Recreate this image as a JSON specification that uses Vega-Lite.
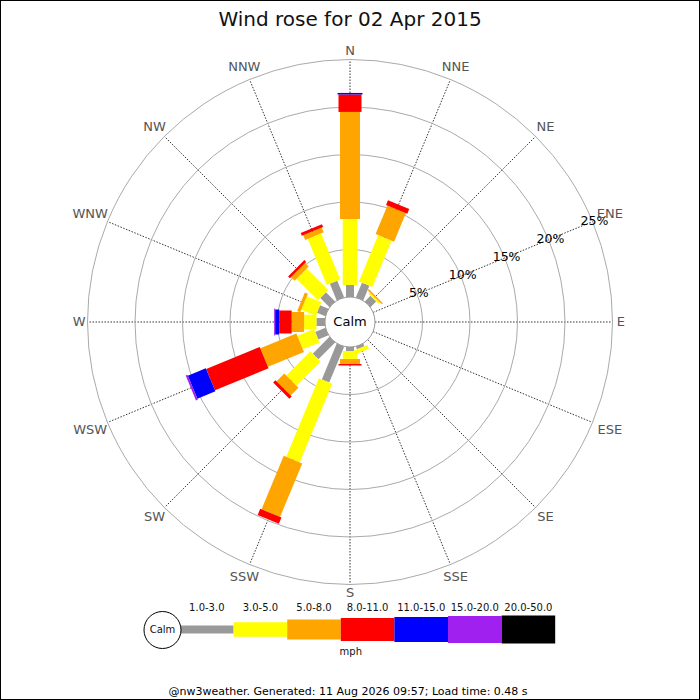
{
  "$schema": "https://vega.github.io/schema/vega-lite/v6.json",
  "width": 700,
  "height": 700,
  "autosize": "none",
  "padding": 0,
  "background": "white",
  "view": {"stroke": "black", "strokeWidth": 2},
  "config": {"font": "DejaVu Sans"},
  "title": {
    "text": "Wind rose for 02 Apr 2015",
    "font": "DejaVu Sans",
    "fontSize": 20,
    "fontWeight": "normal",
    "color": "#111111",
    "anchor": "middle",
    "offset": 0,
    "baseline": "alphabetic",
    "dy": 46
  },
  "datasets": {
    "bars": [
      {"dir": "N", "deg": 0, "k": 1, "cls": "1.0-3.0", "pct": 1.26},
      {"dir": "N", "deg": 0, "k": 2, "cls": "3.0-5.0", "pct": 6.95},
      {"dir": "N", "deg": 0, "k": 3, "cls": "5.0-8.0", "pct": 11.27},
      {"dir": "N", "deg": 0, "k": 4, "cls": "8.0-11.0", "pct": 1.84},
      {"dir": "N", "deg": 0, "k": 5, "cls": "11.0-15.0", "pct": 0.16},
      {"dir": "NNE", "deg": 22.5, "k": 1, "cls": "1.0-3.0", "pct": 1.68},
      {"dir": "NNE", "deg": 22.5, "k": 2, "cls": "3.0-5.0", "pct": 5.27},
      {"dir": "NNE", "deg": 22.5, "k": 3, "cls": "5.0-8.0", "pct": 3.26},
      {"dir": "NNE", "deg": 22.5, "k": 4, "cls": "8.0-11.0", "pct": 0.53},
      {"dir": "NE", "deg": 45, "k": 1, "cls": "1.0-3.0", "pct": 0.84},
      {"dir": "NE", "deg": 45, "k": 2, "cls": "3.0-5.0", "pct": 0.21},
      {"dir": "NE", "deg": 45, "k": 3, "cls": "5.0-8.0", "pct": 0.16},
      {"dir": "SSE", "deg": 157.5, "k": 1, "cls": "1.0-3.0", "pct": 0.3},
      {"dir": "SSE", "deg": 157.5, "k": 2, "cls": "3.0-5.0", "pct": 0.44},
      {"dir": "S", "deg": 180, "k": 1, "cls": "1.0-3.0", "pct": 0.42},
      {"dir": "S", "deg": 180, "k": 2, "cls": "3.0-5.0", "pct": 0.84},
      {"dir": "S", "deg": 180, "k": 3, "cls": "5.0-8.0", "pct": 0.53},
      {"dir": "S", "deg": 180, "k": 4, "cls": "8.0-11.0", "pct": 0.16},
      {"dir": "SSW", "deg": 202.5, "k": 1, "cls": "1.0-3.0", "pct": 4.1},
      {"dir": "SSW", "deg": 202.5, "k": 2, "cls": "3.0-5.0", "pct": 8.95},
      {"dir": "SSW", "deg": 202.5, "k": 3, "cls": "5.0-8.0", "pct": 6.1},
      {"dir": "SSW", "deg": 202.5, "k": 4, "cls": "8.0-11.0", "pct": 0.7},
      {"dir": "SW", "deg": 225, "k": 1, "cls": "1.0-3.0", "pct": 2.5},
      {"dir": "SW", "deg": 225, "k": 2, "cls": "3.0-5.0", "pct": 3.6},
      {"dir": "SW", "deg": 225, "k": 3, "cls": "5.0-8.0", "pct": 1.15},
      {"dir": "SW", "deg": 225, "k": 4, "cls": "8.0-11.0", "pct": 0.35},
      {"dir": "WSW", "deg": 247.5, "k": 1, "cls": "1.0-3.0", "pct": 1.16},
      {"dir": "WSW", "deg": 247.5, "k": 2, "cls": "3.0-5.0", "pct": 1.89},
      {"dir": "WSW", "deg": 247.5, "k": 3, "cls": "5.0-8.0", "pct": 4.1},
      {"dir": "WSW", "deg": 247.5, "k": 4, "cls": "8.0-11.0", "pct": 6.1},
      {"dir": "WSW", "deg": 247.5, "k": 5, "cls": "11.0-15.0", "pct": 2.05},
      {"dir": "WSW", "deg": 247.5, "k": 6, "cls": "15.0-20.0", "pct": 0.2},
      {"dir": "W", "deg": 270, "k": 1, "cls": "1.0-3.0", "pct": 0.9},
      {"dir": "W", "deg": 270, "k": 2, "cls": "3.0-5.0", "pct": 1.3},
      {"dir": "W", "deg": 270, "k": 3, "cls": "5.0-8.0", "pct": 1.31},
      {"dir": "W", "deg": 270, "k": 4, "cls": "8.0-11.0", "pct": 1.31},
      {"dir": "W", "deg": 270, "k": 5, "cls": "11.0-15.0", "pct": 0.43},
      {"dir": "W", "deg": 270, "k": 6, "cls": "15.0-20.0", "pct": 0.1},
      {"dir": "WNW", "deg": 292.5, "k": 1, "cls": "1.0-3.0", "pct": 0.95},
      {"dir": "WNW", "deg": 292.5, "k": 2, "cls": "3.0-5.0", "pct": 1.65},
      {"dir": "WNW", "deg": 292.5, "k": 3, "cls": "5.0-8.0", "pct": 0.35},
      {"dir": "NW", "deg": 315, "k": 1, "cls": "1.0-3.0", "pct": 1.37},
      {"dir": "NW", "deg": 315, "k": 2, "cls": "3.0-5.0", "pct": 3.2},
      {"dir": "NW", "deg": 315, "k": 3, "cls": "5.0-8.0", "pct": 0.53},
      {"dir": "NW", "deg": 315, "k": 4, "cls": "8.0-11.0", "pct": 0.27},
      {"dir": "NNW", "deg": 337.5, "k": 1, "cls": "1.0-3.0", "pct": 1.9},
      {"dir": "NNW", "deg": 337.5, "k": 2, "cls": "3.0-5.0", "pct": 5.26},
      {"dir": "NNW", "deg": 337.5, "k": 3, "cls": "5.0-8.0", "pct": 0.53},
      {"dir": "NNW", "deg": 337.5, "k": 4, "cls": "8.0-11.0", "pct": 0.32}
    ],
    "dirs": [
      {"dir": "N", "deg": 0}, {"dir": "NNE", "deg": 22.5}, {"dir": "NE", "deg": 45}, {"dir": "ENE", "deg": 67.5},
      {"dir": "E", "deg": 90}, {"dir": "ESE", "deg": 112.5}, {"dir": "SE", "deg": 135}, {"dir": "SSE", "deg": 157.5},
      {"dir": "S", "deg": 180}, {"dir": "SSW", "deg": 202.5}, {"dir": "SW", "deg": 225}, {"dir": "WSW", "deg": 247.5},
      {"dir": "W", "deg": 270}, {"dir": "WNW", "deg": 292.5}, {"dir": "NW", "deg": 315}, {"dir": "NNW", "deg": 337.5}
    ],
    "rings": [
      {"p": 5, "lab": "5%"}, {"p": 10, "lab": "10%"}, {"p": 15, "lab": "15%"}, {"p": 20, "lab": "20%"}, {"p": 25, "lab": "25%"}
    ],
    "legend": [
      {"k": 1, "cls": "1.0-3.0"}, {"k": 2, "cls": "3.0-5.0"}, {"k": 3, "cls": "5.0-8.0"}, {"k": 4, "cls": "8.0-11.0"},
      {"k": 5, "cls": "11.0-15.0"}, {"k": 6, "cls": "15.0-20.0"}, {"k": 7, "cls": "20.0-50.0"}
    ],
    "calm": [{"label": "Calm", "unit": "mph", "footer": "@nw3weather. Generated: 11 Aug 2026 09:57; Load time: 0.48 s"}]
  },
  "layer": [
    {
      "data": {"name": "dirs"},
      "transform": [
        {"calculate": "datum.deg * PI / 180", "as": "a"},
        {"calculate": "25 * sin(datum.a)", "as": "sx0"},
        {"calculate": "25 * cos(datum.a)", "as": "sy0"},
        {"calculate": "262.5 * sin(datum.a)", "as": "sx1"},
        {"calculate": "262.5 * cos(datum.a)", "as": "sy1"}
      ],
      "mark": {"type": "rule", "stroke": "#333333", "strokeWidth": 1, "strokeDash": [1.5, 1.5]},
      "encoding": {
        "x": {
          "field": "sx0", "type": "quantitative",
          "scale": {"domain": [-350, 350], "nice": false, "zero": false},
          "axis": null
        },
        "y": {
          "field": "sy0", "type": "quantitative",
          "scale": {"domain": [-378, 322], "nice": false, "zero": false},
          "axis": null
        },
        "x2": {"field": "sx1"},
        "y2": {"field": "sy1"}
      }
    },
    {
      "data": {"name": "rings"},
      "transform": [{"calculate": "4 * pow(25 + 9.5 * datum.p, 2)", "as": "area"}],
      "mark": {"type": "point", "shape": "circle", "filled": false, "stroke": "#aaaaaa", "strokeWidth": 1, "opacity": 1},
      "encoding": {
        "x": {"datum": 0, "type": "quantitative", "axis": null},
        "y": {"datum": 0, "type": "quantitative", "axis": null},
        "size": {"field": "area", "type": "quantitative", "scale": null, "legend": null}
      }
    },
    {
      "data": {"name": "bars"},
      "transform": [
        {"stack": "pct", "groupby": ["dir"], "sort": [{"field": "k", "order": "ascending"}], "as": ["p0", "p1"]},
        {"calculate": "datum.deg * PI / 180", "as": "a"},
        {"calculate": "(25 + 9.5 * datum.p0) * sin(datum.a)", "as": "bx0"},
        {"calculate": "(25 + 9.5 * datum.p0) * cos(datum.a)", "as": "by0"},
        {"calculate": "(25 + 9.5 * datum.p1) * sin(datum.a)", "as": "bx1"},
        {"calculate": "(25 + 9.5 * datum.p1) * cos(datum.a)", "as": "by1"}
      ],
      "mark": {"type": "rule", "strokeCap": "butt"},
      "encoding": {
        "x": {"field": "bx0", "type": "quantitative", "axis": null},
        "y": {"field": "by0", "type": "quantitative", "axis": null},
        "x2": {"field": "bx1"},
        "y2": {"field": "by1"},
        "color": {
          "field": "cls", "type": "nominal", "legend": null,
          "scale": {
            "domain": ["1.0-3.0", "3.0-5.0", "5.0-8.0", "8.0-11.0", "11.0-15.0", "15.0-20.0", "20.0-50.0"],
            "range": ["#999999", "#ffff00", "#ffa500", "#ff0000", "#0000ff", "#a020f0", "#000000"]
          }
        },
        "strokeWidth": {
          "field": "cls", "type": "nominal", "legend": null,
          "scale": {
            "type": "ordinal",
            "domain": ["1.0-3.0", "3.0-5.0", "5.0-8.0", "8.0-11.0", "11.0-15.0", "15.0-20.0", "20.0-50.0"],
            "range": [8, 14.5, 20, 23, 25, 27, 28]
          }
        }
      }
    },
    {
      "data": {"name": "calm"},
      "mark": {"type": "point", "shape": "circle", "filled": true, "fill": "white", "stroke": "#999999", "strokeWidth": 1, "opacity": 1, "size": 2500},
      "encoding": {
        "x": {"datum": 0, "type": "quantitative", "axis": null},
        "y": {"datum": 0, "type": "quantitative", "axis": null}
      }
    },
    {
      "data": {"name": "calm"},
      "mark": {"type": "text", "fontSize": 13, "color": "#000000", "align": "center", "baseline": "middle"},
      "encoding": {
        "x": {"datum": 0, "type": "quantitative", "axis": null},
        "y": {"datum": 0, "type": "quantitative", "axis": null},
        "text": {"field": "label"}
      }
    },
    {
      "data": {"name": "rings"},
      "transform": [
        {"calculate": "(27 + 9.5 * datum.p) * sin(67.5 * PI / 180)", "as": "lx"},
        {"calculate": "(27 + 9.5 * datum.p) * cos(67.5 * PI / 180)", "as": "ly"}
      ],
      "mark": {"type": "text", "fontSize": 12.5, "color": "#000000", "align": "center", "baseline": "middle"},
      "encoding": {
        "x": {"field": "lx", "type": "quantitative", "axis": null},
        "y": {"field": "ly", "type": "quantitative", "axis": null},
        "text": {"field": "lab"}
      }
    },
    {
      "data": {"name": "dirs"},
      "transform": [
        {"calculate": "datum.deg * PI / 180", "as": "a"},
        {"calculate": "266 + 4.8 * length(datum.dir) * abs(sin(datum.a)) + 5 * abs(cos(datum.a))", "as": "R"},
        {"calculate": "datum.R * sin(datum.a)", "as": "tx"},
        {"calculate": "datum.R * cos(datum.a)", "as": "ty"}
      ],
      "mark": {"type": "text", "fontSize": 13, "color": "#555555", "align": "center", "baseline": "middle"},
      "encoding": {
        "x": {"field": "tx", "type": "quantitative", "axis": null},
        "y": {"field": "ty", "type": "quantitative", "axis": null},
        "text": {"field": "dir"}
      }
    },
    {
      "data": {"name": "legend"},
      "transform": [
        {"calculate": "-170 + 53.6 * (datum.k - 1)", "as": "xa"},
        {"calculate": "datum.xa + 53.6", "as": "xb"},
        {"calculate": "-307.5", "as": "ly"}
      ],
      "mark": {"type": "rule", "strokeCap": "butt"},
      "encoding": {
        "x": {"field": "xa", "type": "quantitative", "axis": null},
        "y": {"field": "ly", "type": "quantitative", "axis": null},
        "x2": {"field": "xb"},
        "y2": {"field": "ly"},
        "color": {
          "field": "cls", "type": "nominal", "legend": null,
          "scale": {
            "domain": ["1.0-3.0", "3.0-5.0", "5.0-8.0", "8.0-11.0", "11.0-15.0", "15.0-20.0", "20.0-50.0"],
            "range": ["#999999", "#ffff00", "#ffa500", "#ff0000", "#0000ff", "#a020f0", "#000000"]
          }
        },
        "strokeWidth": {
          "field": "cls", "type": "nominal", "legend": null,
          "scale": {
            "type": "ordinal",
            "domain": ["1.0-3.0", "3.0-5.0", "5.0-8.0", "8.0-11.0", "11.0-15.0", "15.0-20.0", "20.0-50.0"],
            "range": [8, 14.5, 20, 23, 25, 27, 28]
          }
        }
      }
    },
    {
      "data": {"name": "legend"},
      "transform": [
        {"calculate": "-170 + 53.6 * (datum.k - 1) + 26.8", "as": "xm"},
        {"calculate": "-289", "as": "ly"}
      ],
      "mark": {"type": "text", "fontSize": 10, "color": "#111111", "align": "center", "baseline": "alphabetic"},
      "encoding": {
        "x": {"field": "xm", "type": "quantitative", "axis": null},
        "y": {"field": "ly", "type": "quantitative", "axis": null},
        "text": {"field": "cls"}
      }
    },
    {
      "data": {"name": "calm"},
      "mark": {"type": "point", "shape": "circle", "filled": true, "fill": "white", "stroke": "#000000", "strokeWidth": 1, "opacity": 1, "size": 1369},
      "encoding": {
        "x": {"datum": -187.5, "type": "quantitative", "axis": null},
        "y": {"datum": -308, "type": "quantitative", "axis": null}
      }
    },
    {
      "data": {"name": "calm"},
      "mark": {"type": "text", "fontSize": 10, "color": "#111111", "align": "center", "baseline": "middle"},
      "encoding": {
        "x": {"datum": -187.5, "type": "quantitative", "axis": null},
        "y": {"datum": -308, "type": "quantitative", "axis": null},
        "text": {"field": "label"}
      }
    },
    {
      "data": {"name": "calm"},
      "mark": {"type": "text", "fontSize": 10, "color": "#111111", "align": "center", "baseline": "alphabetic"},
      "encoding": {
        "x": {"datum": 0.8, "type": "quantitative", "axis": null},
        "y": {"datum": -333, "type": "quantitative", "axis": null},
        "text": {"field": "unit"}
      }
    },
    {
      "data": {"name": "calm"},
      "mark": {"type": "text", "fontSize": 11, "color": "#000000", "align": "center", "baseline": "alphabetic"},
      "encoding": {
        "x": {"datum": -2, "type": "quantitative", "axis": null},
        "y": {"datum": -373, "type": "quantitative", "axis": null},
        "text": {"field": "footer"}
      }
    }
  ]
}
